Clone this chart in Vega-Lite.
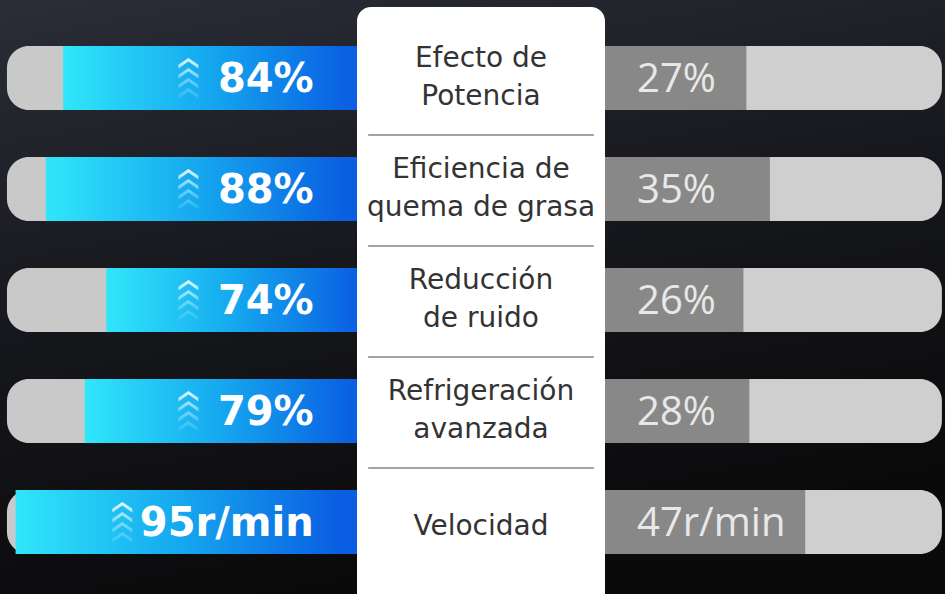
{
  "$schema": "https://vega.github.io/schema/vega-lite/v6.json",
  "width": 945,
  "height": 594,
  "autosize": {"type": "fit", "contains": "padding"},
  "padding": 0,
  "background": "#111114",
  "config": {"view": {"stroke": null}},
  "datasets": {
    "rows": [
      {"feature": "Efecto de Potencia", "label": ["Efecto de", "Potencia"], "ours": 84, "theirs": 27, "unit": "%", "oursLabel": "84%", "theirsLabel": "27%"},
      {"feature": "Eficiencia de quema de grasa", "label": ["Eficiencia de", "quema de grasa"], "ours": 88, "theirs": 35, "unit": "%", "oursLabel": "88%", "theirsLabel": "35%"},
      {"feature": "Reducción de ruido", "label": ["Reducción", "de ruido"], "ours": 74, "theirs": 26, "unit": "%", "oursLabel": "74%", "theirsLabel": "26%"},
      {"feature": "Refrigeración avanzada", "label": ["Refrigeración", "avanzada"], "ours": 79, "theirs": 28, "unit": "%", "oursLabel": "79%", "theirsLabel": "28%"},
      {"feature": "Velocidad", "label": ["Velocidad"], "ours": 95, "theirs": 47, "unit": "r/min", "oursLabel": "95r/min", "theirsLabel": "47r/min"}
    ],
    "one": [{"k": 1}]
  },
  "resolve": {"scale": {"x": "independent", "y": "independent"}},
  "layer": [
    {
      "data": {"name": "one"},
      "mark": {"type": "rect", "fill": {"gradient": "linear", "x1": 0, "y1": 0, "x2": 0.3, "y2": 1, "stops": [{"offset": 0, "color": "#2b2d37"}, {"offset": 0.5, "color": "#17181d"}, {"offset": 1, "color": "#0a0a0b"}]}},
      "encoding": {
        "x": {"datum": 0, "type": "quantitative", "axis": null, "scale": {"nice": false, "range": [0, 945]}},
        "x2": {"datum": 1},
        "y": {"datum": 0, "type": "quantitative", "axis": null, "scale": {"nice": false, "range": [0, 594]}},
        "y2": {"datum": 1}
      }
    },
    {
      "data": {"name": "rows"},
      "encoding": {
        "y": {"field": "feature", "type": "nominal", "sort": null, "axis": null, "scale": {"type": "band", "range": [22.5, 577.5], "paddingInner": 0.4234, "paddingOuter": 0.2117}}
      },
      "layer": [
        {
          "mark": {"type": "bar", "color": "#c9c9c9", "cornerRadius": 22},
          "encoding": {
            "x": {"datum": 97, "type": "quantitative", "axis": null, "scale": {"nice": false, "zero": true, "range": [426, 6.96]}},
            "x2": {"datum": 0}
          }
        },
        {
          "mark": {"type": "bar", "color": {"gradient": "linear", "x1": 0, "y1": 0, "x2": 1, "y2": 0, "stops": [{"offset": 0, "color": "#30e6fa"}, {"offset": 0.4, "color": "#15a8ef"}, {"offset": 0.78, "color": "#0a60e2"}, {"offset": 1, "color": "#0a55dc"}]}},
          "encoding": {
            "x": {"field": "ours", "type": "quantitative", "axis": null},
            "x2": {"datum": 0}
          }
        },
        {
          "transform": [{"filter": "datum.unit == '%'"}],
          "mark": {"type": "point", "filled": true, "size": 1600, "strokeWidth": 0, "shape": "M-0.5,-0.66L0,-1L0.5,-0.66L0.5,-0.48L0,-0.82L-0.5,-0.48Z M-0.5,-0.16L0,-0.5L0.5,-0.16L0.5,0.02L0,-0.32L-0.5,0.02Z M-0.5,0.34L0,0L0.5,0.34L0.5,0.52L0,0.18L-0.5,0.52Z M-0.5,0.84L0,0.5L0.5,0.84L0.5,1.02L0,0.68L-0.5,1.02Z", "fill": {"gradient": "linear", "x1": 0, "y1": 0, "x2": 0, "y2": 1, "stops": [{"offset": 0, "color": "#ffffff"}, {"offset": 1, "color": "rgba(90,210,250,0.35)"}]}, "opacity": 0.9},
          "encoding": {
            "x": {"datum": 55, "type": "quantitative", "axis": null}
          }
        },
        {
          "transform": [{"filter": "datum.unit != '%'"}],
          "mark": {"type": "point", "filled": true, "size": 1600, "strokeWidth": 0, "shape": "M-0.5,-0.66L0,-1L0.5,-0.66L0.5,-0.48L0,-0.82L-0.5,-0.48Z M-0.5,-0.16L0,-0.5L0.5,-0.16L0.5,0.02L0,-0.32L-0.5,0.02Z M-0.5,0.34L0,0L0.5,0.34L0.5,0.52L0,0.18L-0.5,0.52Z M-0.5,0.84L0,0.5L0.5,0.84L0.5,1.02L0,0.68L-0.5,1.02Z", "fill": {"gradient": "linear", "x1": 0, "y1": 0, "x2": 0, "y2": 1, "stops": [{"offset": 0, "color": "#ffffff"}, {"offset": 1, "color": "rgba(110,225,250,0.35)"}]}, "opacity": 0.9},
          "encoding": {
            "x": {"datum": 70.3, "type": "quantitative", "axis": null}
          }
        },
        {
          "mark": {"type": "text", "align": "right", "baseline": "middle", "font": "DejaVu Sans", "fontWeight": "bold", "fontSize": 40, "color": "#ffffff", "dy": 2},
          "encoding": {
            "x": {"datum": 26, "type": "quantitative", "axis": null},
            "text": {"field": "oursLabel", "type": "nominal"}
          }
        }
      ]
    },
    {
      "data": {"name": "rows"},
      "encoding": {
        "y": {"field": "feature", "type": "nominal", "sort": null, "axis": null, "scale": {"type": "band", "range": [22.5, 577.5], "paddingInner": 0.4234, "paddingOuter": 0.2117}}
      },
      "layer": [
        {
          "mark": {"type": "bar", "color": "#cfcfcf", "cornerRadius": 22},
          "encoding": {
            "x": {"datum": 93.5, "type": "quantitative", "axis": null, "scale": {"nice": false, "range": [578.8, 941.89]}},
            "x2": {"datum": -30}
          }
        },
        {
          "mark": {"type": "bar", "color": "#888888"},
          "encoding": {
            "x": {"field": "theirs", "type": "quantitative", "axis": null},
            "x2": {"datum": -30}
          }
        },
        {
          "mark": {"type": "text", "align": "left", "baseline": "middle", "font": "Open Sans", "fontSize": 40, "color": "#e8e8e8", "dy": 2},
          "encoding": {
            "x": {"datum": -10.2, "type": "quantitative", "axis": null},
            "text": {"field": "theirsLabel", "type": "nominal"}
          }
        }
      ]
    },
    {
      "resolve": {"scale": {"y": "independent"}},
      "layer": [
        {
          "data": {"name": "one"},
          "mark": {"type": "rect", "color": "#ffffff", "cornerRadius": 14},
          "encoding": {
            "x": {"datum": 0, "type": "quantitative", "axis": null, "scale": {"nice": false, "range": [357, 605]}},
            "x2": {"datum": 1},
            "y": {"datum": 0, "type": "quantitative", "axis": null, "scale": {"nice": false, "range": [7, 650]}},
            "y2": {"datum": 1}
          }
        },
        {
          "data": {"name": "rows"},
          "encoding": {
            "x": {"datum": 0.5, "type": "quantitative", "axis": null},
            "y": {"field": "feature", "type": "nominal", "sort": null, "axis": null, "scale": {"type": "band", "range": [22.5, 577.5], "paddingInner": 0.4234, "paddingOuter": 0.2117}},
            "text": {"field": "label", "type": "nominal"}
          },
          "layer": [
            {
              "transform": [{"filter": "length(datum.label) > 1"}],
              "mark": {"type": "text", "align": "center", "baseline": "middle", "font": "DejaVu Sans", "fontSize": 28, "lineHeight": 38, "color": "#333333", "dy": -19}
            },
            {
              "transform": [{"filter": "length(datum.label) == 1"}],
              "mark": {"type": "text", "align": "center", "baseline": "middle", "font": "DejaVu Sans", "fontSize": 28, "lineHeight": 38, "color": "#333333", "dy": 5}
            }
          ]
        }
      ]
    },
    {
      "data": {"name": "rows"},
      "transform": [{"filter": "datum.feature != 'Velocidad'"}],
      "mark": {"type": "rule", "color": "#a3a3a3", "strokeWidth": 2},
      "encoding": {
        "x": {"datum": 0.045, "type": "quantitative", "axis": null, "scale": {"nice": false, "zero": true, "range": [357, 593.84]}},
        "x2": {"datum": 0.955},
        "y": {"field": "feature", "type": "nominal", "sort": null, "axis": null, "scale": {"type": "band", "range": [79.5, 523.5], "paddingInner": 0, "paddingOuter": 0}}
      }
    }
  ]
}
